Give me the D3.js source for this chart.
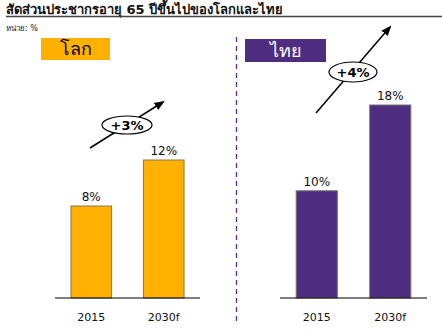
<!DOCTYPE html>
<html><head><meta charset="utf-8">
<script src="https://cdn.jsdelivr.net/npm/d3@7"></script>
<style>
html,body{margin:0;padding:0;background:#fff;}
svg{display:block;}
text{font-family:Tahoma,"DejaVu Sans","Noto Sans",sans-serif;}
</style></head><body>
<script>
const title = "สัดส่วนประชากรอายุ 65 ปีขึ้นไปของโลกและไทย";
const unitLabel = "หน่วย: %";
const categories = ["2015", "2030f"];
const panelNames = ["โลก", "ไทย"];
const worldValues = [8, 12];
const thaiValues = [10, 18];
const changeLabels = ["+3%", "+4%"];

const W = 442, H = 334;
const svg = d3.select("body").append("svg").attr("width", W).attr("height", H);

svg.append("text").attr("x", 6).attr("y", 13.5)
  .attr("font-size", 13).attr("font-weight", "bold").attr("fill", "#111").text(title);
svg.append("line").attr("x1", 6).attr("x2", 442).attr("y1", 16.5).attr("y2", 16.5)
  .attr("stroke", "#444").attr("stroke-width", 1.3);
svg.append("text").attr("x", 6).attr("y", 31).attr("font-size", 8).attr("fill", "#222").text(unitLabel);

// divider
svg.append("line").attr("x1", 236.5).attr("x2", 236.5).attr("y1", 37).attr("y2", 322)
  .attr("stroke", "#5b2d8a").attr("stroke-width", 1.3).attr("stroke-dasharray", "5,4");

const baseY = 298;
const panels = [
  {name: panelNames[0], values: worldValues, range: [55, 200], top: 160, color: "#FFB000", stroke: "#8a7a55",
   head: [41, 38, 69, 22], headColor: "#FFB000", headText: "#000", change: changeLabels[0],
   arrow: [[90, 148], [163, 102]], ell: [127, 125, 25, 9]},
  {name: panelNames[1], values: thaiValues, range: [280, 427], top: 105, color: "#4E2C80", stroke: "#777",
   head: [245, 39, 81, 23], headColor: "#4E2C80", headText: "#fff", change: changeLabels[1],
   arrow: [[316, 113], [390, 27]], ell: [353, 72, 24, 10]}
];

const defs = svg.append("defs");
defs.append("marker").attr("id", "ah").attr("viewBox", "0 0 10 10").attr("refX", 8).attr("refY", 5)
  .attr("markerWidth", 7).attr("markerHeight", 7).attr("orient", "auto")
  .append("path").attr("d", "M0,1 L10,5 L0,9 Z").attr("fill", "#000");

panels.forEach(p => {
  const x = d3.scaleBand().domain(categories).range(p.range).paddingInner(0.44).paddingOuter(0.22);
  const y = d3.scaleLinear().domain([0, d3.max(p.values)]).range([baseY, p.top]);
  const g = svg.append("g");
  // header
  g.append("rect").attr("x", p.head[0]).attr("y", p.head[1]).attr("width", p.head[2]).attr("height", p.head[3])
    .attr("fill", p.headColor);
  g.append("text").attr("x", p.head[0] + p.head[2] / 2).attr("y", p.head[1] + p.head[3] / 2 + 6)
    .attr("text-anchor", "middle").attr("font-size", 18).attr("fill", p.headText).text(p.name);
  // bars
  g.selectAll("rect.bar").data(p.values).join("rect").attr("class", "bar")
    .attr("x", (d, i) => x(categories[i])).attr("width", x.bandwidth())
    .attr("y", d => y(d)).attr("height", d => baseY - y(d))
    .attr("fill", p.color).attr("stroke", p.stroke).attr("stroke-width", 1);
  g.selectAll("text.val").data(p.values).join("text").attr("class", "val")
    .attr("x", (d, i) => x(categories[i]) + x.bandwidth() / 2).attr("y", d => y(d) - 5)
    .attr("text-anchor", "middle").attr("font-size", 12).attr("fill", "#111").text(d => d + "%");
  // axis
  const axis = d3.axisBottom(x).tickSize(0).tickPadding(15);
  const ag = g.append("g").attr("transform", `translate(0,${baseY})`).call(axis);
  ag.select(".domain").attr("stroke", "#000").attr("stroke-width", 1.2).attr("d", `M${p.range[0]},0H${p.range[1]}`);
  ag.selectAll("text").attr("font-size", 11).attr("fill", "#111").attr("font-family", "Tahoma,'DejaVu Sans',sans-serif");
  // arrow
  g.append("line").attr("x1", p.arrow[0][0]).attr("y1", p.arrow[0][1]).attr("x2", p.arrow[1][0]).attr("y2", p.arrow[1][1])
    .attr("stroke", "#000").attr("stroke-width", 1.5).attr("marker-end", "url(#ah)");
  g.append("ellipse").attr("cx", p.ell[0]).attr("cy", p.ell[1]).attr("rx", p.ell[2]).attr("ry", p.ell[3])
    .attr("fill", "#fff").attr("stroke", "#000").attr("stroke-width", 1.2);
  g.append("text").attr("x", p.ell[0]).attr("y", p.ell[1] + 4.5).attr("text-anchor", "middle")
    .attr("font-size", 13).attr("font-weight", "bold").attr("fill", "#000").text(p.change);
});
</script>
</body></html>
